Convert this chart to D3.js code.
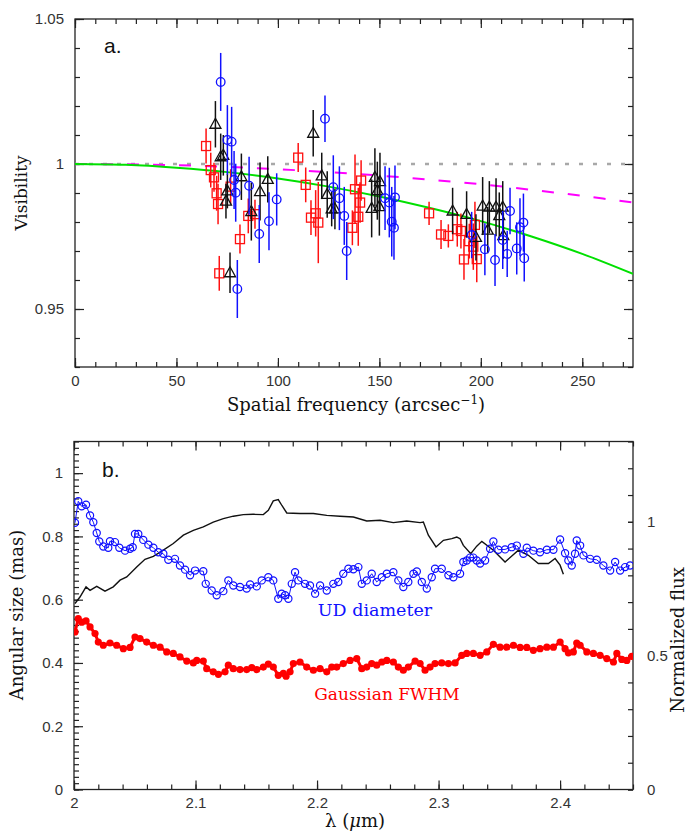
<!DOCTYPE html>
<html lang="en">
<head>
	<title>Visibility and angular size</title>
	<meta charset="utf-8">
	<script src="https://d3js.org/d3.v7.min.js" charset="utf-8"></script>
	<style>
		body { margin: 0; background: #fff; }
		.tick line { stroke: #222; stroke-width: 1.2; }
		.tick text { font-family: "Liberation Sans", sans-serif; font-size: 15px; fill: #333; }
		.title { font-family: "DejaVu Serif", serif; font-size: 18px; fill: #111; }
	</style>
</head>
<body>
	<script>
		// panel a: visibilities vs spatial frequency
		var redX = [64.6, 66.9, 68.5, 69.8, 70.5, 71.1, 76.7, 81.3, 85.4, 88.7, 110, 113.7, 116.3, 118.6, 119.9, 136.7, 138, 141, 140.5, 139.6, 174.5, 180.4, 184, 188.4, 190.2, 191.7, 194.3, 196.3, 197.1, 198];
		var redY = [1.0062, 0.9979, 0.9954, 0.9899, 0.9862, 0.9623, 0.9922, 0.9741, 0.9821, 0.9827, 1.0022, 0.9928, 0.9815, 0.983, 0.9798, 0.978, 0.9913, 0.9943, 0.9867, 0.9818, 0.983, 0.9757, 0.9752, 0.9775, 0.9769, 0.9671, 0.9734, 0.9715, 0.979, 0.9672];
		var redErr = [0.006, 0.006, 0.005, 0.006, 0.007, 0.006, 0.006, 0.005, 0.006, 0.005, 0.005, 0.006, 0.006, 0.008, 0.014, 0.006, 0.012, 0.007, 0.007, 0.01, 0.004, 0.005, 0.004, 0.006, 0.006, 0.007, 0.006, 0.008, 0.008, 0.008];

		var blackX = [69.2, 71.8, 73.1, 75.1, 74.4, 76.4, 82, 86.9, 91.2, 95, 117.4, 121.6, 124.3, 126.5, 128.1, 146.2, 147.8, 150.3, 149, 150, 186.1, 193, 197.6, 200.9, 204.2, 207.5, 210.8, 209.1, 203.4, 211.1];
		var blackY = [1.0137, 1.0025, 1.003, 0.9907, 0.9872, 0.9625, 0.9956, 0.9836, 0.9905, 0.9947, 1.0106, 0.9959, 0.9895, 0.9845, 0.9845, 0.9847, 0.9954, 0.9939, 0.9908, 0.9853, 0.9838, 0.9826, 0.9747, 0.9855, 0.9851, 0.9851, 0.9851, 0.9822, 0.9772, 0.9753];
		var blackErr = [0.008, 0.008, 0.007, 0.006, 0.006, 0.007, 0.008, 0.01, 0.01, 0.008, 0.008, 0.008, 0.008, 0.006, 0.007, 0.01, 0.01, 0.01, 0.01, 0.01, 0.008, 0.008, 0.008, 0.01, 0.009, 0.01, 0.009, 0.008, 0.008, 0.008];

		var blueX = [71.8, 75.1, 77.2, 78.4, 79.2, 80, 85.8, 90.8, 95.6, 99.4, 123.2, 127.3, 130.3, 132.7, 133.9, 152.8, 154.9, 157.7, 156.1, 157.2, 195.5, 202, 207, 210.8, 213, 214.4, 217.7, 219.3, 221, 221.4];
		var blueY = [1.0283, 1.0083, 1.0077, 0.9945, 0.9901, 0.9569, 0.9925, 0.9759, 0.9803, 0.9878, 1.0156, 0.992, 0.9882, 0.9821, 0.97, 0.9882, 0.9867, 0.9885, 0.9801, 0.978, 0.9755, 0.9706, 0.9669, 0.9738, 0.969, 0.9838, 0.9709, 0.9782, 0.9798, 0.9675];
		var blueErr = [0.01, 0.012, 0.012, 0.01, 0.01, 0.01, 0.01, 0.01, 0.01, 0.009, 0.008, 0.011, 0.011, 0.01, 0.01, 0.011, 0.012, 0.011, 0.012, 0.011, 0.008, 0.009, 0.009, 0.01, 0.008, 0.008, 0.009, 0.01, 0.01, 0.008];

		// model curves
		var modelX = [0, 25, 50, 75, 100, 125, 150, 175, 200, 225, 250, 275];
		var magentaY = [1, 0.9999, 0.9996, 0.999, 0.9982, 0.9972, 0.996, 0.9946, 0.993, 0.9911, 0.989, 0.9867];
		var greenY = [1, 0.9997, 0.9987, 0.9972, 0.995, 0.9922, 0.9888, 0.9848, 0.9803, 0.975, 0.969, 0.9621];

		// panel b: UD diameter, gaussian FWHM, normalized flux vs wavelength
		var udLam = [2.0008,2.0035,2.0063,2.0099,2.0132,2.0159,2.0187,2.0208,2.0241,2.0282,2.0296,2.0337,2.0373,2.042,2.0461,2.0483,2.0502,2.0529,2.057,2.0612,2.0653,2.0694,2.0735,2.0776,2.0831,2.0872,2.0914,2.0955,2.0996,2.1064,2.1084,2.1133,2.1174,2.1229,2.127,2.1311,2.1366,2.1421,2.1449,2.1504,2.1545,2.1599,2.164,2.1681,2.1709,2.1737,2.1764,2.1792,2.1819,2.1846,2.1901,2.1942,2.1984,2.2025,2.208,2.2134,2.2175,2.2216,2.2258,2.2299,2.234,2.2368,2.2409,2.245,2.2491,2.2533,2.2574,2.2628,2.2669,2.271,2.2751,2.2793,2.2821,2.2862,2.2903,2.2944,2.2971,2.3026,2.3081,2.3122,2.3177,2.3204,2.3232,2.3259,2.3286,2.3314,2.3342,2.3383,2.3424,2.3451,2.3492,2.3547,2.3602,2.3644,2.3698,2.3726,2.378,2.3835,2.3891,2.3945,2.4,2.4041,2.4068,2.4096,2.4123,2.4137,2.4165,2.4192,2.4247,2.4302,2.4356,2.4412,2.4453,2.4494,2.4535,2.4576];
		var udVal = [0.843,0.911,0.895,0.9,0.866,0.845,0.811,0.784,0.768,0.764,0.785,0.782,0.764,0.755,0.761,0.766,0.808,0.808,0.789,0.774,0.764,0.75,0.745,0.726,0.729,0.708,0.695,0.677,0.692,0.69,0.65,0.629,0.614,0.627,0.661,0.645,0.64,0.635,0.648,0.642,0.661,0.671,0.661,0.603,0.619,0.614,0.603,0.65,0.687,0.661,0.65,0.645,0.619,0.645,0.629,0.65,0.656,0.682,0.698,0.696,0.703,0.65,0.661,0.682,0.656,0.671,0.682,0.687,0.661,0.64,0.656,0.682,0.689,0.656,0.635,0.671,0.698,0.698,0.677,0.671,0.682,0.719,0.724,0.733,0.733,0.724,0.714,0.724,0.761,0.784,0.758,0.759,0.766,0.771,0.745,0.764,0.755,0.75,0.758,0.758,0.79,0.747,0.724,0.708,0.745,0.787,0.771,0.74,0.729,0.726,0.708,0.692,0.719,0.692,0.703,0.708];

		var gLam = [2.0008,2.0035,2.0063,2.0099,2.0132,2.0173,2.02,2.0241,2.0296,2.0351,2.0406,2.0461,2.0502,2.0543,2.0598,2.0653,2.0708,2.0763,2.0817,2.0872,2.0928,2.0982,2.101,2.1064,2.1092,2.1146,2.1188,2.1243,2.127,2.1311,2.1366,2.1421,2.1463,2.1504,2.1558,2.1599,2.164,2.1681,2.1723,2.1745,2.1778,2.1805,2.186,2.1915,2.197,2.2025,2.208,2.2121,2.2162,2.2216,2.2272,2.2327,2.2368,2.2409,2.245,2.2491,2.2533,2.2574,2.2628,2.2669,2.271,2.2751,2.2807,2.2848,2.2889,2.293,2.2971,2.3026,2.3081,2.3136,2.3191,2.3232,2.3286,2.3342,2.3397,2.3451,2.3506,2.3561,2.3616,2.3671,2.3726,2.378,2.3835,2.3891,2.3945,2.4,2.4041,2.4068,2.4109,2.4137,2.4165,2.422,2.4274,2.4329,2.4384,2.4439,2.4467,2.4508,2.4549,2.459];
		var gVal = [0.498,0.54,0.529,0.533,0.514,0.493,0.466,0.456,0.463,0.456,0.445,0.449,0.482,0.477,0.466,0.456,0.45,0.435,0.43,0.419,0.406,0.4,0.408,0.406,0.382,0.372,0.364,0.372,0.393,0.382,0.379,0.379,0.385,0.379,0.387,0.396,0.387,0.361,0.367,0.358,0.372,0.398,0.403,0.387,0.377,0.382,0.372,0.387,0.387,0.398,0.408,0.414,0.382,0.387,0.398,0.393,0.403,0.408,0.403,0.387,0.377,0.387,0.406,0.398,0.377,0.387,0.398,0.4,0.398,0.4,0.424,0.43,0.43,0.424,0.435,0.459,0.45,0.45,0.456,0.449,0.449,0.44,0.445,0.45,0.45,0.466,0.445,0.432,0.435,0.463,0.456,0.435,0.43,0.424,0.414,0.403,0.43,0.411,0.408,0.421];

		var fluxLam = [2.0008,2.0049,2.0099,2.0132,2.0187,2.0255,2.0323,2.0379,2.0434,2.0516,2.0584,2.0653,2.0735,2.0817,2.09,2.0982,2.1064,2.1146,2.1229,2.1311,2.1393,2.1476,2.1558,2.1599,2.164,2.1681,2.1712,2.1751,2.186,2.197,2.208,2.2189,2.2299,2.2409,2.2519,2.2628,2.2738,2.2848,2.2875,2.2916,2.2979,2.304,2.3109,2.315,2.3177,2.3204,2.3265,2.3314,2.3356,2.3451,2.3547,2.3657,2.3739,2.3821,2.3904,2.3959,2.4,2.4027];
		var fluxVal = [0.695,0.719,0.757,0.744,0.759,0.741,0.757,0.782,0.794,0.831,0.86,0.871,0.894,0.919,0.95,0.968,0.981,0.999,1.012,1.021,1.027,1.028,1.027,1.043,1.078,1.083,1.06,1.033,1.031,1.031,1.024,1.021,1.018,1.003,1.006,0.997,1.003,0.997,0.999,0.95,0.906,0.931,0.937,0.943,0.937,0.912,0.881,0.909,0.927,0.894,0.85,0.894,0.875,0.844,0.844,0.863,0.838,0.804];

		var width = 688;
		var height = 838;

		var svg = d3.select("body")
			.append("svg")
			.attr("width", width)
			.attr("height", height);

		svg.append("rect").attr("width", width).attr("height", height).attr("fill", "#fff");

		// scales
		var xA = d3.scaleLinear().domain([0, 275]).range([75, 633]);
		var yA = d3.scaleLinear().domain([0.93, 1.05]).range([367, 19]);
		var xB = d3.scaleLinear().domain([2, 2.46]).range([74, 633]);
		var yB = d3.scaleLinear().domain([0, 1.1]).range([789.5, 441.5]);
		var yR = d3.scaleLinear().domain([0, 1.3]).range([789.5, 441.5]);

		function fmt(d) { return String(d); }

		// draws inward ticks; labels only if a formatter is given
		function axis(gen, pos, vals, size, labels, pad) {
			var g = svg.append("g")
				.attr("transform", pos)
				.call(gen.tickValues(vals).tickSize(-size).tickSizeOuter(0)
					.tickPadding(pad || 8).tickFormat(labels || ""));
			g.select(".domain").remove();
			return g;
		}

		// ---- panel a ----
		axis(d3.axisBottom(xA), "translate(0,367)", d3.range(0, 276, 10), 5);
		axis(d3.axisBottom(xA), "translate(0,367)", [0, 50, 100, 150, 200, 250], 9, fmt, 8);
		axis(d3.axisTop(xA), "translate(0,19)", d3.range(0, 276, 10), 5);
		axis(d3.axisTop(xA), "translate(0,19)", [0, 50, 100, 150, 200, 250], 9);
		axis(d3.axisLeft(yA), "translate(75,0)", d3.range(0.93, 1.0501, 0.01), 5);
		axis(d3.axisLeft(yA), "translate(75,0)", [0.95, 1, 1.05], 9, fmt, 11);
		axis(d3.axisRight(yA), "translate(633,0)", d3.range(0.93, 1.0501, 0.01), 5);
		axis(d3.axisRight(yA), "translate(633,0)", [0.95, 1, 1.05], 9);

		svg.append("rect").attr("x", 75).attr("y", 19).attr("width", 558).attr("height", 348)
			.attr("fill", "none").attr("stroke", "#222").attr("stroke-width", 1.3);

		var clipA = svg.append("clipPath").attr("id", "clipA");
		clipA.append("rect").attr("x", 75).attr("y", 19).attr("width", 558).attr("height", 348);
		var plotA = svg.append("g").attr("clip-path", "url(#clipA)");

		// y = 1 reference
		plotA.append("line")
			.attr("x1", xA(0)).attr("x2", xA(275)).attr("y1", yA(1)).attr("y2", yA(1))
			.attr("stroke", "#a8a8a8").attr("stroke-width", 2.5).attr("stroke-dasharray", "4,10");

		var modelLine = function(ys) {
			return d3.line().curve(d3.curveCatmullRom)
				.x(function(d, i) { return xA(modelX[i]); })
				.y(function(d) { return yA(d); })(ys);
		};
		plotA.append("path").attr("d", modelLine(magentaY))
			.attr("fill", "none").attr("stroke", "#ff00ff").attr("stroke-width", 2).attr("stroke-dasharray", "12,14");
		plotA.append("path").attr("d", modelLine(greenY))
			.attr("fill", "none").attr("stroke", "#00e000").attr("stroke-width", 2);

		function errBars(xs, ys, es, color) {
			plotA.append("g").selectAll("line")
				.data(xs)
				.enter()
				.append("line")
				.attr("x1", function(d) { return xA(d); })
				.attr("x2", function(d) { return xA(d); })
				.attr("y1", function(d, i) { return yA(ys[i] - es[i]); })
				.attr("y2", function(d, i) { return yA(ys[i] + es[i]); })
				.attr("stroke", color).attr("stroke-width", 1.5);
		}

		var red = "#ff1010";
		errBars(redX, redY, redErr, red);
		plotA.append("g").selectAll("rect")
			.data(redX)
			.enter()
			.append("rect")
			.attr("x", function(d) { return xA(d) - 4.5; })
			.attr("y", function(d, i) { return yA(redY[i]) - 4.5; })
			.attr("width", 9).attr("height", 9)
			.attr("fill", "none").attr("stroke", red).attr("stroke-width", 1.3);

		errBars(blackX, blackY, blackErr, "#111");
		plotA.append("g").selectAll("path")
			.data(blackX)
			.enter()
			.append("path")
			.attr("transform", function(d, i) { return "translate(" + xA(d) + "," + yA(blackY[i]) + ")"; })
			.attr("d", "M0,-6L5.5,4L-5.5,4Z")
			.attr("fill", "none").attr("stroke", "#111").attr("stroke-width", 1.3);

		errBars(blueX, blueY, blueErr, "#1010ff");
		plotA.append("g").selectAll("circle")
			.data(blueX)
			.enter()
			.append("circle")
			.attr("cx", function(d) { return xA(d); })
			.attr("cy", function(d, i) { return yA(blueY[i]); })
			.attr("r", 4.3)
			.attr("fill", "none").attr("stroke", "#1010ff").attr("stroke-width", 1.3);

		svg.append("text").attr("x", 104).attr("y", 53)
			.style("font-family", "'Liberation Sans', sans-serif").style("font-size", "21px").attr("fill", "#111")
			.text("a.");

		svg.append("text").attr("class", "title")
			.attr("transform", "translate(27,193) rotate(-90)")
			.attr("text-anchor", "middle").style("font-size", "17px")
			.text("Visibility");

		var xt = svg.append("text").attr("class", "title")
			.attr("x", 356).attr("y", 411).attr("text-anchor", "middle");
		xt.append("tspan").text("Spatial frequency (arcsec");
		xt.append("tspan").attr("dy", -7).style("font-size", "12px").text("\u22121");
		xt.append("tspan").attr("dy", 7).text(")");

		// ---- panel b ----
		axis(d3.axisBottom(xB), "translate(0,789.5)", d3.range(2, 2.4601, 0.02), 5);
		axis(d3.axisBottom(xB), "translate(0,789.5)", [2, 2.1, 2.2, 2.3, 2.4], 9, fmt, 8);
		axis(d3.axisTop(xB), "translate(0,441.5)", d3.range(2, 2.4601, 0.02), 5);
		axis(d3.axisTop(xB), "translate(0,441.5)", [2, 2.1, 2.2, 2.3, 2.4], 9);
		axis(d3.axisLeft(yB), "translate(74,0)", d3.range(0, 1.1001, 0.02), 5);
		axis(d3.axisLeft(yB), "translate(74,0)", [0, 0.2, 0.4, 0.6, 0.8, 1], 9, fmt, 11);
		axis(d3.axisRight(yR), "translate(633,0)", d3.range(0, 1.3001, 0.1), 5);
		axis(d3.axisRight(yR), "translate(633,0)", [0, 0.5, 1], 5, fmt, 14);

		svg.append("rect").attr("x", 74).attr("y", 441.5).attr("width", 559).attr("height", 348)
			.attr("fill", "none").attr("stroke", "#222").attr("stroke-width", 1.3);

		var clipB = svg.append("clipPath").attr("id", "clipB");
		clipB.append("rect").attr("x", 74).attr("y", 441.5).attr("width", 559).attr("height", 348);
		var plotB = svg.append("g").attr("clip-path", "url(#clipB)");

		// normalized flux (right axis)
		plotB.append("path")
			.attr("d", d3.line()
				.x(function(d) { return xB(d); })
				.y(function(d, i) { return yR(fluxVal[i]); })(fluxLam))
			.attr("fill", "none").attr("stroke", "#111").attr("stroke-width", 1.4);

		// UD diameter
		plotB.append("path")
			.attr("d", d3.line()
				.x(function(d) { return xB(d); })
				.y(function(d, i) { return yB(udVal[i]); })(udLam))
			.attr("fill", "none").attr("stroke", "#1010ff").attr("stroke-width", 1);
		plotB.append("g").selectAll("circle")
			.data(udLam)
			.enter()
			.append("circle")
			.attr("cx", function(d) { return xB(d); })
			.attr("cy", function(d, i) { return yB(udVal[i]); })
			.attr("r", 3.6)
			.attr("fill", "none").attr("stroke", "#1010ff").attr("stroke-width", 1.2);

		// gaussian FWHM
		plotB.append("path")
			.attr("d", d3.line()
				.x(function(d) { return xB(d); })
				.y(function(d, i) { return yB(gVal[i]); })(gLam))
			.attr("fill", "none").attr("stroke", "#ff0000").attr("stroke-width", 3);
		plotB.append("g").selectAll("circle")
			.data(gLam)
			.enter()
			.append("circle")
			.attr("cx", function(d) { return xB(d); })
			.attr("cy", function(d, i) { return yB(gVal[i]); })
			.attr("r", 3.6)
			.attr("fill", "#ff0000");

		svg.append("text").attr("x", 102).attr("y", 477)
			.style("font-family", "'Liberation Sans', sans-serif").style("font-size", "21px").attr("fill", "#111")
			.text("b.");

		svg.append("text").attr("class", "title")
			.attr("x", 375).attr("y", 616).attr("text-anchor", "middle")
			.style("fill", "#1010ff").style("font-size", "17.5px")
			.text("UD diameter");
		svg.append("text").attr("class", "title")
			.attr("x", 387).attr("y", 700).attr("text-anchor", "middle")
			.style("fill", "#ff0000").style("font-size", "17px")
			.text("Gaussian FWHM");

		svg.append("text").attr("class", "title")
			.attr("transform", "translate(23,615) rotate(-90)")
			.attr("text-anchor", "middle")
			.text("Angular size (mas)");
		svg.append("text").attr("class", "title")
			.attr("transform", "translate(684,640) rotate(-90)")
			.attr("text-anchor", "middle")
			.text("Normalized flux");

		var lt = svg.append("text").attr("class", "title")
			.attr("x", 355).attr("y", 827).attr("text-anchor", "middle");
		lt.append("tspan").text("\u03bb (");
		lt.append("tspan").style("font-style", "italic").text("\u03bc");
		lt.append("tspan").text("m)");
	</script>
</body>
</html>
